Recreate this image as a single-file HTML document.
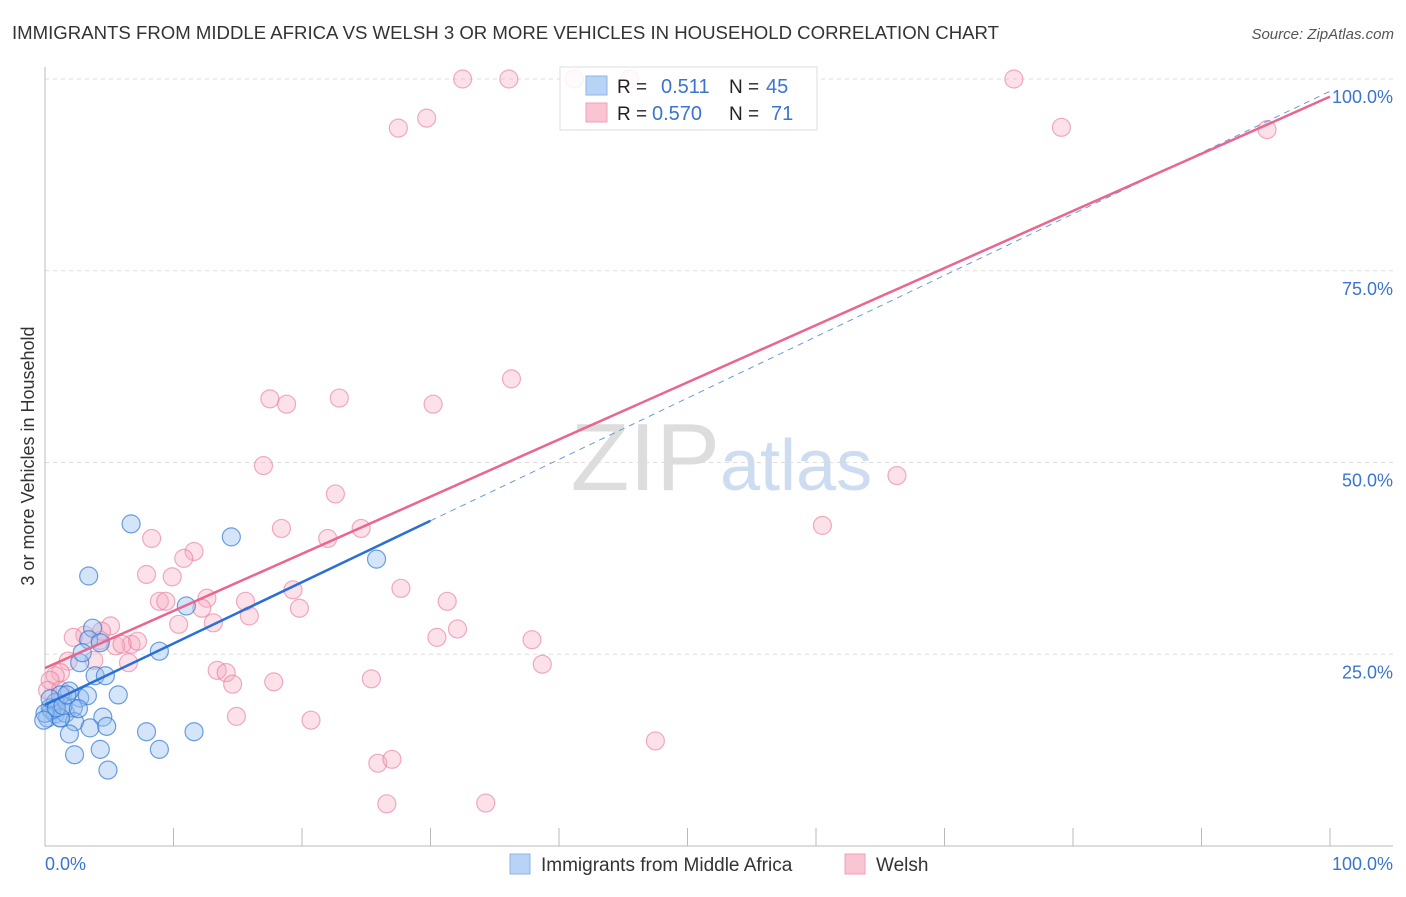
<!DOCTYPE html>
<html><head><meta charset="utf-8"><style>
body{margin:0;background:#fff;font-family:"Liberation Sans",sans-serif;}
svg text{font-family:"Liberation Sans",sans-serif;}
</style></head><body>
<svg id="c" width="1406" height="892">
<text x="12" y="39" font-size="18.6" fill="#333">IMMIGRANTS FROM MIDDLE AFRICA VS WELSH 3 OR MORE VEHICLES IN HOUSEHOLD CORRELATION CHART</text>
<text x="1394" y="39" font-size="15" fill="#555" font-style="italic" text-anchor="end">Source: ZipAtlas.com</text>
<text x="34" y="456" font-size="18" fill="#333" text-anchor="middle" transform="rotate(-90 34 456)">3 or more Vehicles in Household</text>
<text x="720" y="490" font-size="96" fill="#ddd" text-anchor="end" font-family="Liberation Serif">ZIP</text>
<text x="720" y="490" font-size="72" fill="#cddcf0">atlas</text>
<g id="grid"></g>
<g>
<rect x="560" y="67" width="257" height="63" fill="#fff" stroke="#ddd"/>
</g>
<g id="pts"></g><g id="lines"></g>
<g>
<rect x="560" y="67" width="257" height="63" fill="rgba(255,255,255,0.85)" stroke="#ddd"/>
<rect x="586" y="76" width="21" height="19" fill="#b8d3f5" stroke="#8fb5e8"/>
<rect x="586" y="103" width="21" height="19" fill="#f9c5d5" stroke="#f0a0b8"/>
<text x="617" y="93" font-size="19" fill="#222">R = </text><text x="661" y="93" font-size="20" fill="#3a74d0">0.511</text>
<text x="729" y="93" font-size="19" fill="#222">N = </text><text x="766" y="93" font-size="20" fill="#3a74d0">45</text>
<text x="617" y="120" font-size="19" fill="#222">R = </text><text x="652" y="120" font-size="20" fill="#3a74d0">0.570</text>
<text x="729" y="120" font-size="19" fill="#222">N = </text><text x="771" y="120" font-size="20" fill="#3a74d0">71</text>
</g>
<g>
<rect x="510" y="854" width="20" height="20" fill="#b8d3f5" stroke="#8fb5e8"/>
<text x="541" y="871" font-size="19" fill="#333">Immigrants from Middle Africa</text>
<rect x="845" y="854" width="20" height="20" fill="#f9c5d5" stroke="#f0a0b8"/>
<text x="876" y="871" font-size="19" fill="#333">Welsh</text>
</g>
<text x="45" y="870" font-size="18" fill="#3a74d0">0.0%</text>
<text x="1393" y="870" font-size="18" fill="#3a74d0" text-anchor="end">100.0%</text>
</svg>
<script>
const yTicks=[25,50,75,100];
const yTickLabels=["25.0%","50.0%","75.0%","100.0%"];
const blueX=[6.7,3.4,3.7,3.4,4.3,2.7,2.9,3.9,4.7,2.7,3.3,1.9,1.2,0.8,0.4,0.2,0.8,1.2,1.6,2.2,5.7,4.5,2.3,3.5,4.8,1.9,4.3,2.3,4.9,7.9,8.9,11.6,8.9,11.0,14.5,25.8,1.2,0.5,0.0,0.4,0.9,1.4,-0.1,1.7,2.6];
const blueY=[42.0,35.2,28.4,26.9,26.5,23.9,25.2,22.2,22.2,19.3,19.6,20.2,19.7,18.7,18.0,16.7,17.2,16.7,17.3,18.0,19.7,16.8,16.2,15.4,15.6,14.6,12.6,11.9,9.9,14.9,12.6,14.9,25.4,31.3,40.3,37.4,16.7,17.7,17.3,19.2,18.0,18.3,16.4,19.7,17.9];
const pinkX=[32.5,36.1,41.2,45.5,75.4,27.5,29.7,79.1,95.1,36.3,17.5,18.8,22.9,30.2,17.0,22.6,66.3,60.5,18.4,24.6,22.0,8.3,11.6,10.8,9.9,7.9,19.3,27.7,8.9,9.4,12.6,15.6,31.3,12.2,19.8,10.4,13.1,15.9,5.1,3.1,2.2,4.3,6.7,5.5,7.2,6.0,4.4,32.1,30.5,37.9,3.8,1.8,6.5,1.2,38.7,13.4,14.1,14.6,17.8,25.4,0.8,0.4,14.9,20.7,47.5,25.9,27.0,26.6,34.3,0.2,1.2];
const pinkY=[100,100,100,100,100,93.6,94.9,93.7,93.4,60.9,58.3,57.6,58.4,57.6,49.6,45.9,48.3,41.8,41.4,41.4,40.1,40.1,38.4,37.5,35.1,35.4,33.4,33.6,31.9,31.9,32.3,31.9,31.9,31.0,31.0,28.9,29.1,30.0,28.7,27.5,27.2,26.8,26.3,26.1,26.7,26.3,28.0,28.3,27.2,26.9,24.2,24.1,23.9,22.6,23.7,22.9,22.6,21.1,21.4,21.8,22.2,21.6,16.9,16.4,13.7,10.8,11.3,5.5,5.6,20.3,20.3];
const blueFit=[18.4,0.80];
const pinkFit=[23.2,0.745];
const NS="http://www.w3.org/2000/svg";
const X=v=>45+v*12.85, Y=v=>846-v*7.67;
function mk(t,a,p){const e=document.createElementNS(NS,t);for(const k in a)e.setAttribute(k,a[k]);p.appendChild(e);return e;}
const g=document.getElementById('grid');
yTicks.forEach((t,i)=>{
 const l=mk('line',{x1:45,x2:1393,y1:Y(t),y2:Y(t),stroke:'#ddd','stroke-dasharray':'4,4'},g);
 
 
 const tx=mk('text',{x:1393,y:Y(t)+24,'font-size':18,fill:'#3a74d0','text-anchor':'end'},g);
 tx.textContent=yTickLabels[i];
 
 
});
mk('line',{x1:45,x2:45,y1:67,y2:846,stroke:'#bbb'},g);
mk('line',{x1:45,x2:1393,y1:846,y2:846,stroke:'#bbb'},g);
for(let i=0;i<=10;i++){const x=45+i*128.5;mk('line',{x1:x,x2:x,y1:828,y2:846,stroke:'#bbb'},g);}
const p=document.getElementById('pts');
pinkX.forEach((v,i)=>{const c=mk('circle',{cx:X(v),cy:Y(pinkY[i]),r:9,fill:'rgba(246,168,192,0.35)',stroke:'rgba(230,120,155,0.6)','stroke-width':1.2},p);
 
 });
blueX.forEach((v,i)=>{const c=mk('circle',{cx:X(v),cy:Y(blueY[i]),r:9,fill:'rgba(150,190,240,0.4)',stroke:'rgba(50,120,210,0.7)','stroke-width':1.2},p);
 
 });
const L=document.getElementById('lines');
mk('line',{x1:X(30),y1:Y(blueFit[0]+blueFit[1]*30),x2:X(100),y2:Y(blueFit[0]+blueFit[1]*100),stroke:'#6a9ad8','stroke-width':1,'stroke-dasharray':'6,5'},L);
const bl=mk('line',{x1:X(0),y1:Y(blueFit[0]),x2:X(30),y2:Y(blueFit[0]+blueFit[1]*30),stroke:'#2a6fd6','stroke-width':2.5},L);


const pl=mk('line',{x1:X(0),y1:Y(pinkFit[0]),x2:X(100),y2:Y(pinkFit[0]+pinkFit[1]*100),stroke:'#e8668f','stroke-width':2.5},L);


</script>
</body></html>
